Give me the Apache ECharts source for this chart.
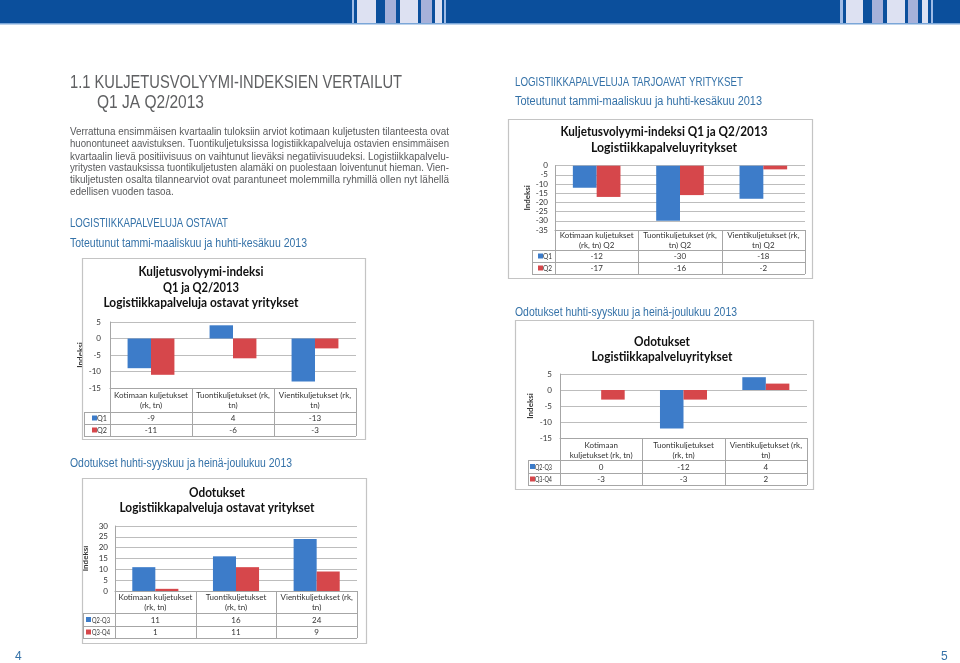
<!DOCTYPE html>
<html><head><meta charset="utf-8">
<script src="https://cdn.jsdelivr.net/npm/echarts@6/dist/echarts.min.js"></script>
<style>html,body{margin:0;padding:0;background:#fff}#c{width:960px;height:663px}</style>
</head><body><div id="c"></div><script>
// ---------- DATA ----------
const catsBuyersActual = ['Kotimaan kuljetukset\n(rk, tn)', 'Tuontikuljetukset (rk,\ntn)', 'Vientikuljetukset (rk,\ntn)'];
const namesActual = ['Q1', 'Q2'];
const buyersQ1 = [-9, 4, -13];
const buyersQ2 = [-11, -6, -3];
const ticksBuyersActual = [-15, -10, -5, 0, 5];

const catsBuyersExp = ['Kotimaan kuljetukset\n(rk, tn)', 'Tuontikuljetukset\n(rk, tn)', 'Vientikuljetukset (rk,\ntn)'];
const namesExp = ['Q2-Q3', 'Q3-Q4'];
const buyersQ2Q3 = [11, 16, 24];
const buyersQ3Q4 = [1, 11, 9];
const ticksBuyersExp = [0, 5, 10, 15, 20, 25, 30];

const catsProvActual = ['Kotimaan kuljetukset\n(rk, tn) Q2', 'Tuontikuljetukset (rk,\ntn) Q2', 'Vientikuljetukset (rk,\ntn) Q2'];
const provQ1 = [-12, -30, -18];
const provQ2 = [-17, -16, -2];
const ticksProvActual = [-35, -30, -25, -20, -15, -10, -5, 0];

const catsProvExp = ['Kotimaan\nkuljetukset (rk, tn)', 'Tuontikuljetukset\n(rk, tn)', 'Vientikuljetukset (rk,\ntn)'];
const provQ2Q3 = [0, -12, 4];
const provQ3Q4 = [-3, -3, 2];
const ticksProvExp = [-15, -10, -5, 0, 5];

// ---------- LAYOUT / STYLE ----------
const BLUE = '#3d7cc9', RED = '#d6474b';
const HEAD = '#3572a8', GREY = '#58595b';
const CF = 'Lato';
const PF = '"Liberation Sans", Arial, sans-serif';

const charts = [
  {cats: catsBuyersActual, names: namesActual, data: [buyersQ1, buyersQ2], ticks: ticksBuyersActual,
   box: [82, 258, 365, 439], titles: ['Kuljetusvolyymi-indeksi', 'Q1 ja Q2/2013', 'Logistiikkapalveluja ostavat yritykset'],
   titleY: [272, 288, 303], titleX: 201, titleW: [125, 76, 195],
   plot: [110, 322, 356, 388], rows: [412, 424, 436], legX: 84, keyX: 92, labX: 97, labW: 10, yMargin: 9, nameGap: 18, catMargin: 2},
  {cats: catsBuyersExp, names: namesExp, data: [buyersQ2Q3, buyersQ3Q4], ticks: ticksBuyersExp,
   box: [82, 478, 366, 643], titles: ['Odotukset', 'Logistiikkapalveluja ostavat yritykset'],
   titleY: [493, 508], titleX: 217, titleW: [56, 195],
   plot: [115, 526, 357, 591], rows: [613, 626, 638], legX: 83, keyX: 86, labX: 92, labW: 18, yMargin: 7, nameGap: 26, catMargin: 1},
  {cats: catsProvActual, names: namesActual, data: [provQ1, provQ2], ticks: ticksProvActual,
   box: [508, 119, 812, 278], titles: ['Kuljetusvolyymi-indeksi Q1 ja Q2/2013', 'Logistiikkapalveluyritykset'],
   titleY: [132, 148], titleX: 664, titleW: [207, 146],
   plot: [555, 165.7, 805, 230], rows: [250, 262, 274], legX: 532, keyX: 538, labX: 543, labW: 9, yMargin: 7, nameGap: 21, catMargin: 0},
  {cats: catsProvExp, names: namesExp, data: [provQ2Q3, provQ3Q4], ticks: ticksProvExp,
   box: [515, 320, 813, 489], titles: ['Odotukset', 'Logistiikkapalveluyritykset'],
   titleY: [342, 357], titleX: 662, titleW: [56, 141],
   plot: [560, 374, 807, 438], rows: [460, 473, 485], legX: 528, keyX: 530, labX: 535, labW: 17, yMargin: 8, nameGap: 26, catMargin: 2}
];

const mctx = document.createElement('canvas').getContext('2d');
function fitText(str, x, y, size, family, weight, width, color, align) {
  const font = weight + ' ' + size + 'px ' + family;
  mctx.font = font;
  const w = mctx.measureText(str).width;
  const s = width ? width / w : 1;
  return {type: 'text', x: x, y: y, scaleX: s, z: 10,
    style: {text: str, font: font, fill: color, textAlign: align || 'left', textVerticalAlign: 'middle', verticalAlign: 'middle'}};
}
function line(x1, y1, x2, y2, color, w) {
  return {type: 'line', z: 5, shape: {x1: x1, y1: y1, x2: x2, y2: y2}, style: {stroke: color || '#a6a6a6', lineWidth: w || 1}};
}
function rect(x, y, w, h, fill, z) {
  return {type: 'rect', z: z || 1, shape: {x: x, y: y, width: w, height: h}, style: {fill: fill}};
}

const graphics = [];
// header band
const DK = '#0b4f9c', PALE = '#dde1f2', MED = '#a6b1da', LT = '#9fbbe6';
graphics.push(rect(0, 0, 960, 23, DK, 0));
const stripes = [
  [352, 2, LT], [357, 19, PALE], [385, 11, MED], [400, 18, PALE], [421, 11, MED], [435, 7, PALE], [444, 2, LT],
  [840, 3, LT], [846, 17, PALE], [872, 11, MED], [887, 18, PALE], [908, 10, MED], [922, 6, PALE], [931, 2, LT]
];
stripes.forEach(s => graphics.push(rect(s[0], 0, s[1], 23, s[2], 1)));
graphics.push(rect(0, 23, 960, 1.5, '#7aa6d8', 1));

// page texts
graphics.push(fitText('1.1 KULJETUSVOLYYMI-INDEKSIEN VERTAILUT', 70, 83, 18, PF, 'normal', 332, '#5f6062'));
graphics.push(fitText('Q1 JA Q2/2013', 97, 103, 18, PF, 'normal', 107, '#5f6062'));
const para = [
  'Verrattuna ensimmäisen kvartaalin tuloksiin arviot kotimaan kuljetusten tilanteesta ovat',
  'huonontuneet aavistuksen. Tuontikuljetuksissa logistiikkapalveluja ostavien ensimmäisen',
  'kvartaalin lievä positiivisuus on vaihtunut lieväksi negatiivisuudeksi. Logistiikkapalvelu-',
  'yritysten vastauksissa tuontikuljetusten alamäki on puolestaan loiventunut hieman. Vien-',
  'tikuljetusten osalta tilannearviot ovat parantuneet molemmilla ryhmillä ollen nyt lähellä',
  'edellisen vuoden tasoa.'
];
const paraY = [132, 144, 156.5, 168.3, 180, 192];
let pScale = 1;
para.forEach((t, i) => {
  if (i < 5) {
    const g = fitText(t, 70, paraY[i], 11.5, PF, 'normal', 379, GREY);
    if (i === 0) pScale = g.scaleX;
    graphics.push(g);
  } else {
    const g = fitText(t, 70, paraY[i], 11.5, PF, 'normal', 0, GREY);
    g.scaleX = pScale; graphics.push(g);
  }
});
graphics.push(fitText('LOGISTIIKKAPALVELUJA OSTAVAT', 70, 224, 12, PF, 'normal', 158, HEAD));
graphics.push(fitText('Toteutunut tammi-maaliskuu ja huhti-kesäkuu 2013', 70, 244, 12, PF, 'normal', 237, HEAD));
graphics.push(fitText('Odotukset huhti-syyskuu ja heinä-joulukuu 2013', 70, 464, 12, PF, 'normal', 222, HEAD));
graphics.push(fitText('LOGISTIIKKAPALVELUJA TARJOAVAT YRITYKSET', 515, 83, 12, PF, 'normal', 228, HEAD));
graphics.push(fitText('Toteutunut tammi-maaliskuu ja huhti-kesäkuu 2013', 515, 102, 12, PF, 'normal', 247, HEAD));
graphics.push(fitText('Odotukset huhti-syyskuu ja heinä-joulukuu 2013', 515, 313, 12, PF, 'normal', 222, HEAD));
graphics.push(fitText('4', 15, 657, 12, PF, 'normal', 0, HEAD));
graphics.push(fitText('5', 941, 657, 12, PF, 'normal', 0, HEAD));

const grids = [], xAxes = [], yAxes = [], series = [];
charts.forEach((c, k) => {
  const [L, T, R, B] = c.plot;
  grids.push({left: L, top: T, width: R - L, height: B - T, containLabel: false});
  xAxes.push({type: 'category', gridIndex: k, data: c.cats,
    axisLine: {show: true, onZero: false, lineStyle: {color: '#a6a6a6'}},
    axisTick: {show: false},
    axisLabel: {interval: 0, fontSize: 8, lineHeight: 10, margin: c.catMargin, color: '#333', fontFamily: CF, verticalAlign: 'top'}});
  const t = c.ticks;
  yAxes.push({type: 'value', gridIndex: k, min: t[0], max: t[t.length - 1], interval: t[1] - t[0],
    axisLabel: {fontSize: 8, color: '#333', margin: c.yMargin, fontFamily: CF},
    axisLine: {show: true, lineStyle: {color: '#a6a6a6'}}, axisTick: {show: false},
    splitLine: {lineStyle: {color: '#bdbdbd'}},
    name: 'Indeksi', nameLocation: 'middle', nameGap: c.nameGap, nameRotate: 90,
    nameTextStyle: {fontSize: 8, fontWeight: 'bold', color: '#333', fontFamily: CF}});
  c.names.forEach((n, j) => {
    series.push({type: 'bar', name: n, xAxisIndex: k, yAxisIndex: k, data: c.data[j],
      barGap: '0%', barCategoryGap: '42.86%', itemStyle: {color: j === 0 ? BLUE : RED}, silent: true});
  });
  // chart box
  const [bx1, by1, bx2, by2] = c.box;
  graphics.push({type: 'rect', z: 2, shape: {x: bx1 + 0.5, y: by1 + 0.5, width: bx2 - bx1, height: by2 - by1},
    style: {fill: 'none', stroke: '#c4c4c4', lineWidth: 1.2}});
  // titles
  c.titles.forEach((tt, i) => graphics.push(fitText(tt, c.titleX, c.titleY[i], 12.5, CF, 'bold', c.titleW[i], '#111', 'center')));
  // table
  const band = (R - L) / c.cats.length;
  const [r0, r1, r2] = c.rows;
  [r0, r1, r2].forEach(y => graphics.push(line(c.legX, y + 0.5, R, y + 0.5)));
  graphics.push(line(c.legX + 0.5, r0, c.legX + 0.5, r2));
  for (let i = 0; i <= c.cats.length; i++) {
    const x = Math.round(L + i * band) + 0.5;
    graphics.push(line(x, B, x, r2));
  }
  const rowC = [(r0 + r1) / 2, (r1 + r2) / 2];
  c.names.forEach((n, j) => {
    graphics.push(rect(c.keyX, rowC[j] - 2.5, 5, 5, j === 0 ? BLUE : RED, 6));
    graphics.push(fitText(n, c.labX, rowC[j] + 0.5, 8, CF, 'normal', c.labW, '#333'));
    c.data[j].forEach((v, i) => {
      graphics.push(fitText(String(v), L + (i + 0.5) * band, rowC[j] + 0.5, 8, CF, 'normal', 0, '#333', 'center'));
    });
  });
});

const chart = echarts.init(document.getElementById('c'), null, {renderer: 'canvas'});
chart.setOption({
  animation: false,
  backgroundColor: '#fff',
  grid: grids, xAxis: xAxes, yAxis: yAxes, series: series,
  graphic: {elements: graphics}
});
</script></body></html>
